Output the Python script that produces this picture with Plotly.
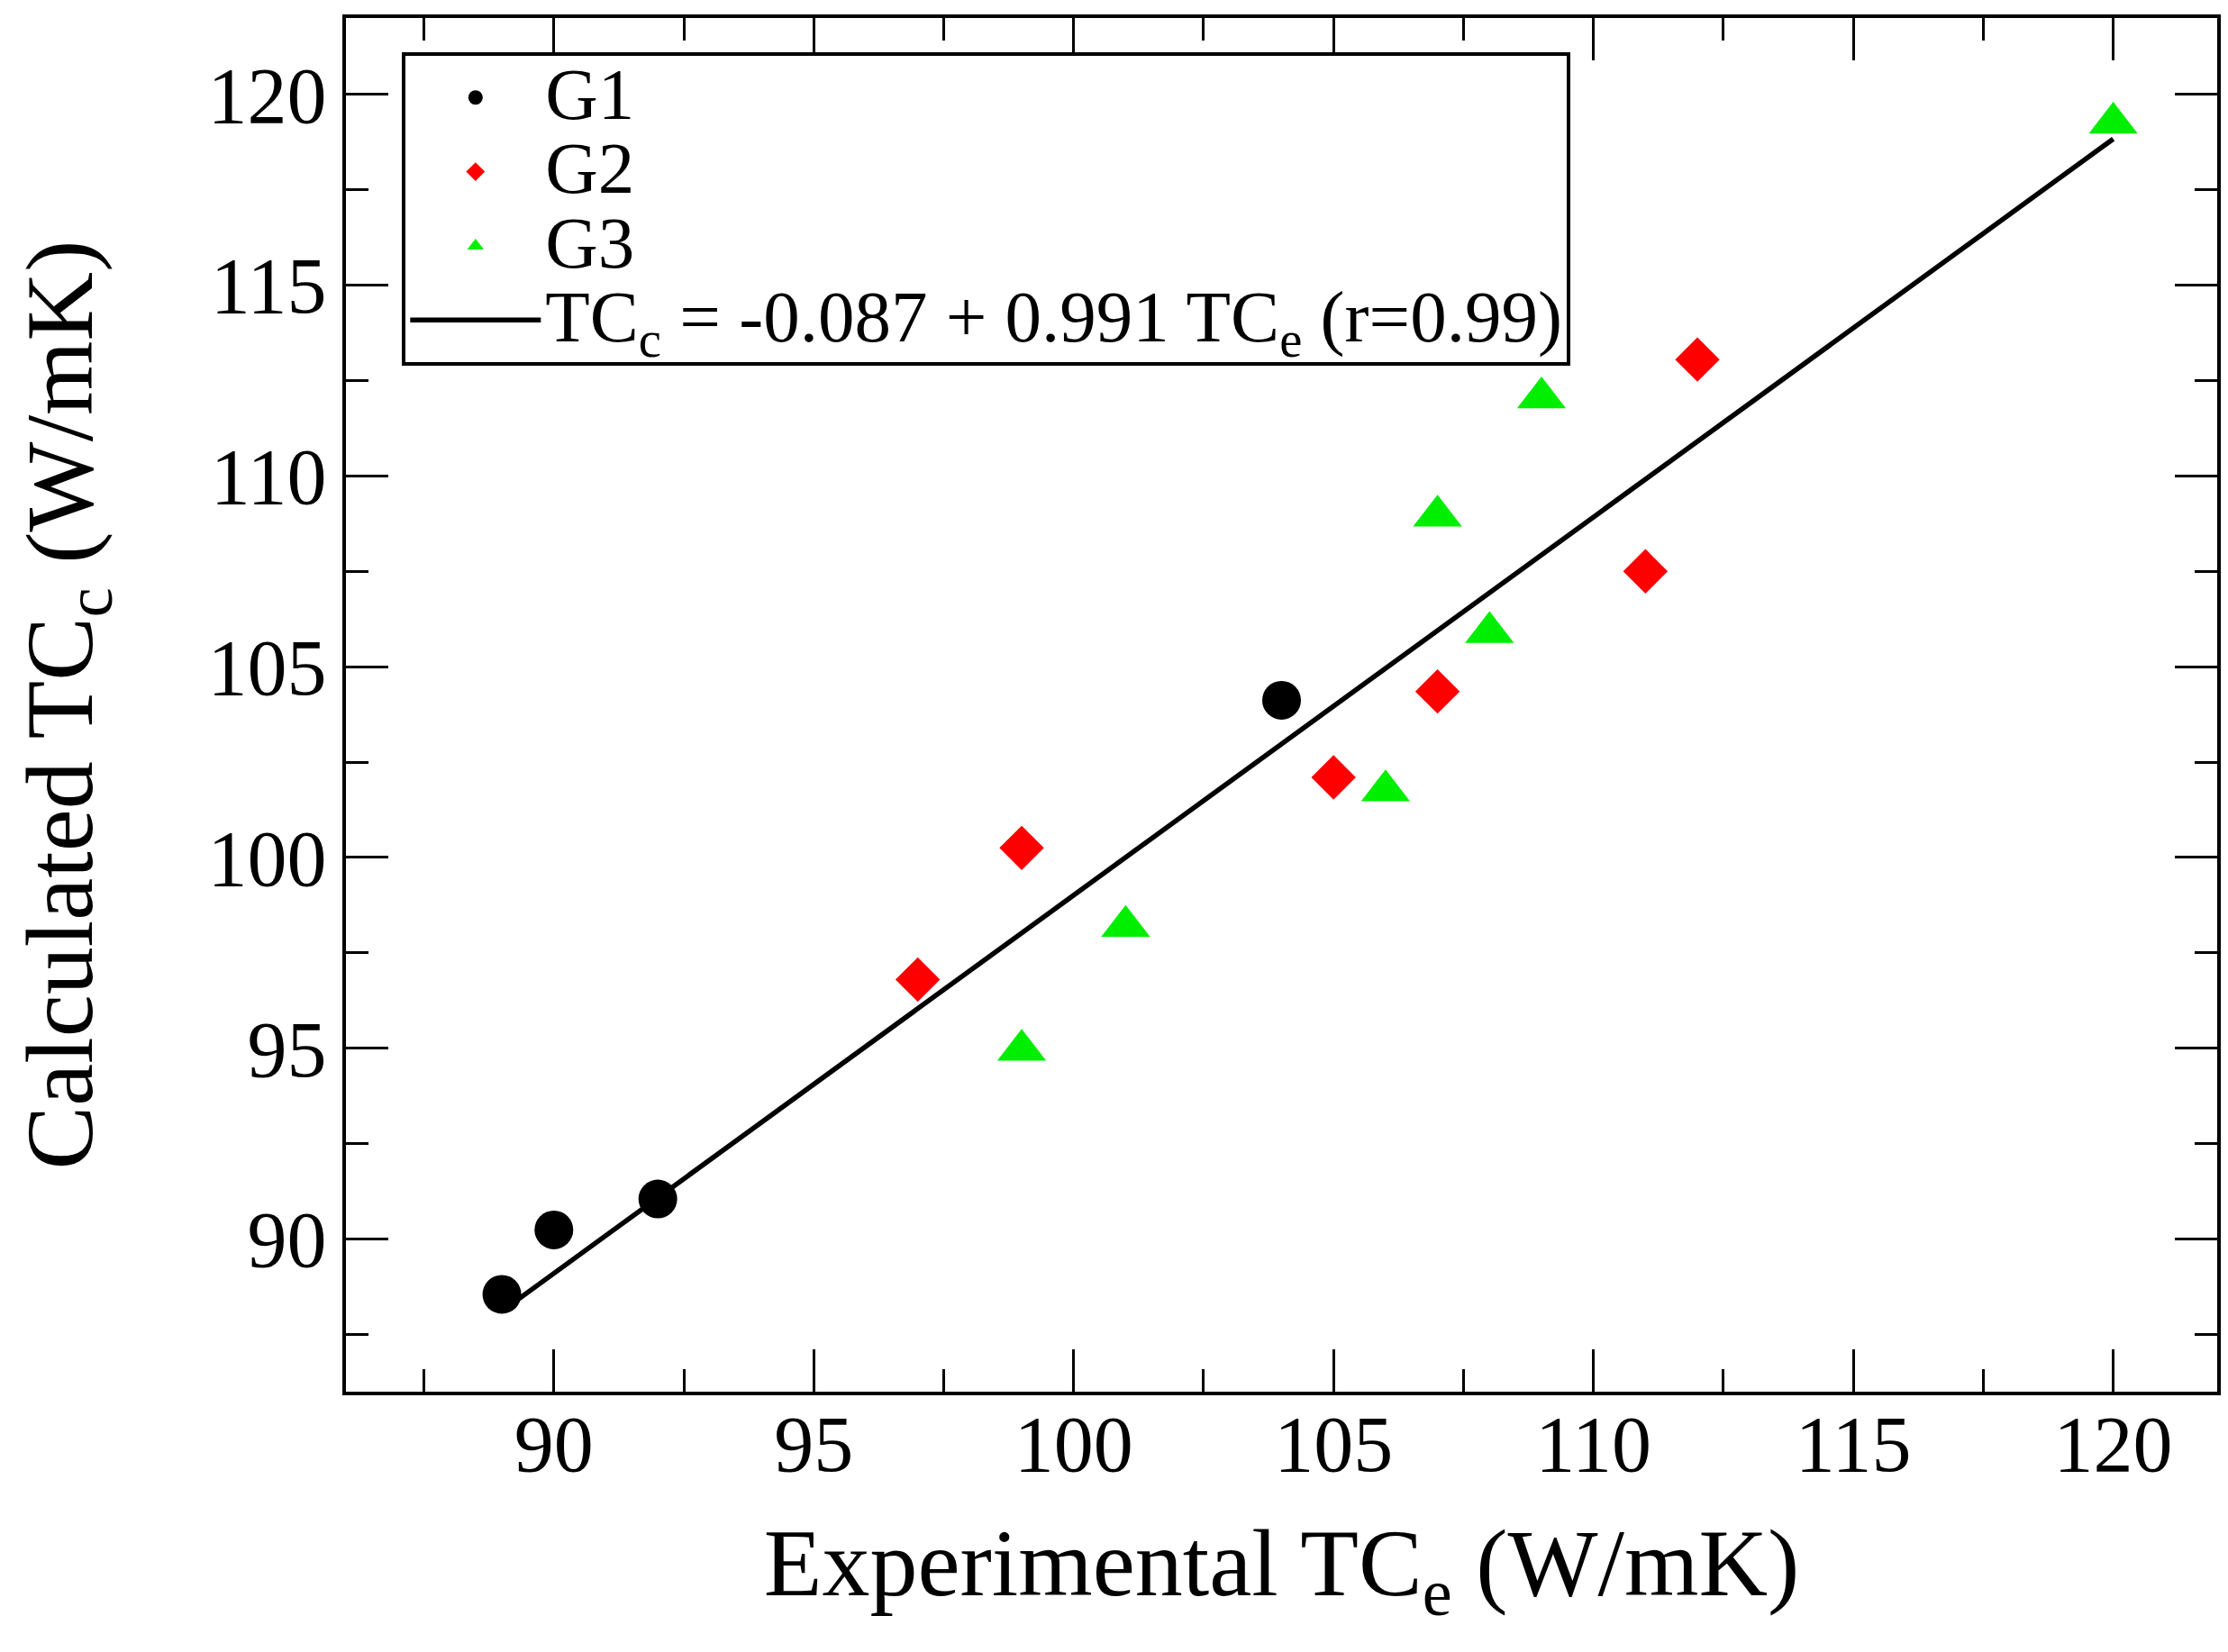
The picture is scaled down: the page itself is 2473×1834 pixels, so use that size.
import plotly.graph_objects as go

# values
g1_x = [89, 90, 92, 104]
g1_y = [88.55, 90.24, 91.05, 104.12]

g2_x = [97, 99, 105, 107, 111, 112]
g2_y = [96.8, 100.25, 102.1, 104.35, 107.5, 113.05]

g3_x = [99, 101, 106, 107, 108, 109, 120]
g3_y = [94.95, 98.2, 101.75, 108.95, 105.9, 112.05, 119.25]

fit_x = [89, 120]
fit_y = [88.11, 118.83]

x_ticks = [90, 95, 100, 105, 110, 115, 120]
y_ticks = [90, 95, 100, 105, 110, 115, 120]

serif = "Liberation Serif, Times New Roman, serif"


def big(label):
    # legend rows are spaced by the legend font size, the text itself is drawn larger
    return f'<span style="font-size:81px">{label}</span>'


fig = go.Figure()

fig.add_trace(
    go.Scatter(
        x=fit_x,
        y=fit_y,
        mode="lines",
        name=big("TC<sub>c</sub> = -0.087 + 0.991 TC<sub>e</sub> (r=0.99)"),
        line={"color": "black", "width": 5.5},
        legendrank=4,
    )
)
fig.add_trace(
    go.Scatter(
        x=g1_x,
        y=g1_y,
        mode="markers",
        name=big("G1"),
        marker={"color": "black", "size": 43, "symbol": "circle"},
        legendrank=1,
    )
)
fig.add_trace(
    go.Scatter(
        x=g2_x,
        y=g2_y,
        mode="markers",
        name=big("G2"),
        marker={"color": "#ff0000", "size": 38, "symbol": "diamond"},
        legendrank=2,
    )
)
fig.add_trace(
    go.Scatter(
        x=g3_x,
        y=g3_y,
        mode="markers",
        name=big("G3"),
        marker={"color": "#00ee00", "size": 47, "symbol": "triangle-up"},
        legendrank=3,
    )
)

axis_common = dict(
    showline=True,
    linecolor="black",
    linewidth=4,
    mirror="allticks",
    ticks="inside",
    ticklen=47,
    tickwidth=3,
    tickcolor="black",
    showgrid=False,
    zeroline=False,
    tickfont={"family": serif, "size": 88, "color": "black"},
    minor={"ticks": "inside", "ticklen": 25, "tickwidth": 3, "tickcolor": "black", "dtick": 2.5},
)

fig.update_xaxes(
    range=[86, 122],
    tickvals=x_ticks,
    ticklabelstandoff=-22,
    title={"text": "Experimental TC<sub>e</sub> (W/mK)",
           "font": {"family": serif, "size": 106, "color": "black"}, "standoff": 47},
    **axis_common,
)
fig.update_yaxes(
    range=[86, 122],
    tickvals=y_ticks,
    title={"text": "Calculated TC<sub>c</sub> (W/mK)",
           "font": {"family": serif, "size": 106, "color": "black"}, "standoff": 100},
    **axis_common,
)

fig.update_layout(
    width=2473,
    height=1834,
    margin={"l": 376, "r": 20, "t": 8, "b": 297},
    paper_bgcolor="white",
    plot_bgcolor="white",
    legend={
        "x": 0.030,
        "y": 0.975,
        "xanchor": "left",
        "yanchor": "top",
        "bgcolor": "white",
        "bordercolor": "black",
        "borderwidth": 4,
        "font": {"family": serif, "size": 61, "color": "black"},
        "itemwidth": 145,
        "traceorder": "normal",
    },
)

fig.write_html("out.html")
